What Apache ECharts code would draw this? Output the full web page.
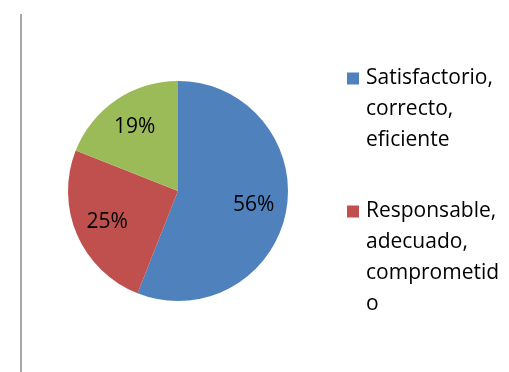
<!DOCTYPE html>
<html>
<head>
<meta charset="utf-8">
<script src="https://cdn.jsdelivr.net/npm/echarts@6/dist/echarts.min.js"></script>
<style>
html,body{margin:0;padding:0;background:#fff;}
#chart{width:509px;height:372px;}
</style>
</head>
<body>
<div id="chart"></div>
<script>
const categories = ['Satisfactorio, correcto, eficiente', 'Responsable, adecuado, comprometido', 'Otro'];
const values = [56, 25, 19];
const colors = ['#4f81bd', '#c0504d', '#9bbb59'];
const legendCategories = [categories[0], categories[1]];
const legendLines = [
  ['Satisfactorio,', 'correcto,', 'eficiente'],
  ['Responsable,', 'adecuado,', 'comprometid', 'o']
];

const LH = 31;
const center = [178, 191];
const radius = 110;
const labelScale = 1.33;

const chart = echarts.init(document.getElementById('chart'), null, {renderer: 'canvas'});
chart.setOption({
  backgroundColor: '#ffffff',
  animation: false,
  color: colors,
  graphic: [{
    type: 'line',
    shape: {x1: 21, y1: 14, x2: 21, y2: 372},
    style: {stroke: '#a8a8a8', lineWidth: 2}
  }],
  legend: {
    orient: 'vertical',
    left: 347,
    top: 1,
    padding: 0,
    itemWidth: 12,
    itemHeight: 12,
    itemGap: -53,
    selectedMode: false,
    icon: 'rect',
    data: legendCategories,
    formatter: function (name) {
      const lines = legendLines[legendCategories.indexOf(name)];
      // leading blank lines keep the first line level with the colour square
      const pad = new Array(lines.length - 1).fill(' ');
      return pad.concat(lines).join('\n');
    },
    textStyle: {
      fontFamily: 'Open Sans',
      fontSize: 21,
      lineHeight: LH,
      color: '#000000',
      padding: [0, 0, 0, 2]
    }
  },
  series: [{
    type: 'pie',
    center: center,
    radius: [0, radius],
    startAngle: 90,
    clockwise: true,
    avoidLabelOverlap: false,
    itemStyle: {borderWidth: 0},
    label: {
      show: true,
      position: 'inside',
      formatter: '{d}%',
      fontFamily: 'Open Sans',
      fontSize: 21,
      color: '#000000'
    },
    labelLine: {show: false},
    labelLayout: function (params) {
      const r = params.labelRect;
      const cx = r.x + r.width / 2;
      const cy = r.y + r.height / 2;
      return {
        x: center[0] + (cx - center[0]) * labelScale,
        y: center[1] + (cy - center[1]) * labelScale
      };
    },
    emphasis: {disabled: true},
    data: categories.map(function (name, i) {
      return {name: name, value: values[i]};
    })
  }]
});
</script>
</body>
</html>
